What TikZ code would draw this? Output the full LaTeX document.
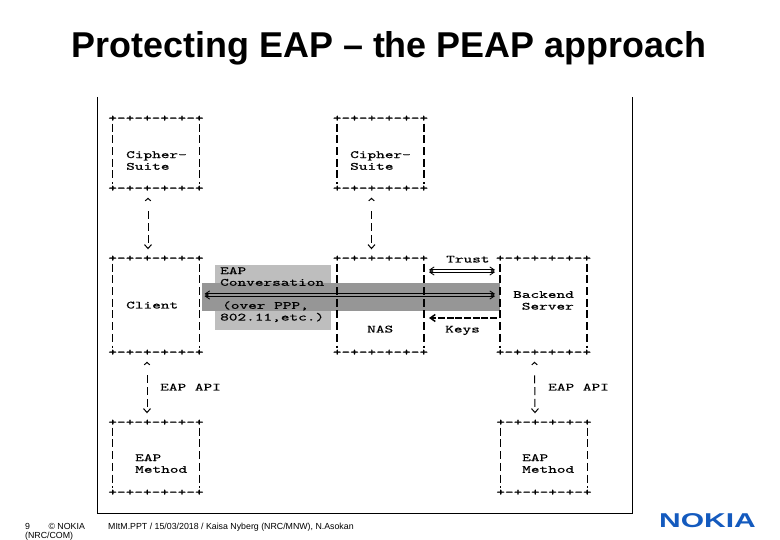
\documentclass[tikz,border=0pt]{standalone}
\usepackage{fontspec}
\setmainfont{Liberation Sans}
\setmonofont[FakeStretch=1.5,FakeBold=0.5]{Latin Modern Mono}
\usetikzlibrary{arrows.meta, positioning}
\definecolor{nokiablue}{RGB}{20,90,190}
\definecolor{lightshade}{RGB}{190,190,190}
\definecolor{darkshade}{RGB}{150,150,150}
% one ascii box: name, centre x, centre y, width, height
\newcommand{\asciibox}[5]{
    \node[boxarea, minimum width=#4, minimum height=#5] (#1) at (#2,#3) {};
    \node[art] (#1top) at (#1.north) {+-+-+-+-+-+};
    \node[art] (#1bot) at (#1.south) {+-+-+-+-+-+};
    \draw[sideline] (#1top.south -| #1.west) -- (#1bot.north -| #1.west);
    \draw[sideline] (#1top.south -| #1.east) -- (#1bot.north -| #1.east);
}
% the two strokes of a <====> link
\newcommand{\dbllink}[2]{
    \draw[dbl, transform canvas={yshift=1.1pt}] #1 -- #2;
    \draw[dbl, transform canvas={yshift=-1.1pt}] #1 -- #2;
}
\begin{document}
\begin{tikzpicture}[
    x=1pt, y=-1pt,
    boxarea/.style={rectangle, inner sep=0pt, outer sep=0pt},
    art/.style={font=\ttfamily\fontsize{11}{11.7}\selectfont, inner sep=0pt, text height=7pt, text depth=2pt},
    lbl/.style={font=\ttfamily\fontsize{11}{11.7}\selectfont, inner sep=0pt, anchor=north west, align=left},
    sideline/.style={line width=1.1pt, dash pattern=on 8pt off 3.7pt},
    vlink/.style={line width=1pt, {Straight Barb[length=2.5pt,width=5.5pt]}-{Straight Barb[length=4pt,width=7pt]}, dash pattern=on 0pt off 12.5pt on 8pt off 3.7pt on 8pt off 3.7pt on 8pt off 30pt},
    dbl/.style={{Straight Barb[length=4.5pt,width=6pt]}-{Straight Barb[length=4.5pt,width=6pt]}, line width=0.8pt},
    keyline/.style={-{Straight Barb[length=5pt,width=7pt]}, line width=1.5pt, dash pattern=on 7pt off 1.7pt}
]
    \useasboundingbox (0,0) rectangle (780,540);
    \node[font=\bfseries\fontsize{35.9}{40}\selectfont, inner sep=0pt] (title) at (389,48.5) {Protecting EAP -- the PEAP approach};

    % outer frame, open at the top
    \coordinate (framea) at (97,97);
    \coordinate (frameb) at (97,513);
    \coordinate (framec) at (632,513);
    \coordinate (framed) at (632,97);
    \draw[line width=1pt] (framea) -- (frameb) -- (framec) -- (framed);

    % grey shading behind the conversation
    \fill[lightshade] (215,265) rectangle (331,330);
    \fill[darkshade] (202,283) rectangle (500,311);

    \asciibox{suitea}{156}{154}{87}{70}
    \asciibox{suiteb}{380.5}{154}{87}{70}
    \asciibox{client}{156}{306}{87}{94}
    \asciibox{nas}{380.5}{306}{87}{94}
    \asciibox{server}{543.5}{306}{87}{94}
    \asciibox{methoda}{156}{458}{87}{70}
    \asciibox{methodb}{544}{458}{87}{70}

    \node[lbl] (suitealbl) at (126,151) {Cipher-\\Suite};
    \node[lbl] (suiteblbl) at (350,151) {Cipher-\\Suite};
    \node[art, anchor=west] (clientlbl) at (126,306) {Client};
    \node[art, anchor=west] (naslbl) at (367,330) {NAS};
    \node[lbl] (serverlbl) at (513,291) {Backend\\~Server};
    \node[lbl] (methodalbl) at (135,454) {EAP\\Method};
    \node[lbl] (methodblbl) at (522,454) {EAP\\Method};
    \node[lbl] (convlbl) at (220,267) {EAP\\Conversation};
    \node[lbl] (overlbl) at (220,301) {\hspace{2pt}(over PPP,\\802.11,etc.)};
    \node[art, anchor=west] (trustlbl) at (446,260) {Trust};
    \node[art, anchor=west] (keyslbl) at (445,330) {Keys};
    \node[art, anchor=west] (apialbl) at (160,388) {EAP API};
    \node[art, anchor=west] (apiblbl) at (548,388) {EAP API};

    \draw[vlink] ([xshift=-8pt,yshift=-4pt]suiteabot.south) -- ([xshift=-8pt,yshift=5pt]clienttop.north);
    \draw[vlink] ([xshift=-9pt,yshift=-4pt]suitebbot.south) -- ([xshift=-9pt,yshift=5pt]nastop.north);
    \draw[vlink] ([xshift=-9pt,yshift=-4pt]clientbot.south) -- ([xshift=-9pt,yshift=5pt]methodatop.north);
    \draw[vlink] ([xshift=-9pt,yshift=-4pt]serverbot.south) -- ([xshift=-9pt,yshift=5pt]methodbtop.north);

    \dbllink{([xshift=5pt,yshift=11pt]client.east)}{([xshift=-5pt,yshift=11pt]server.west)}
    \dbllink{([xshift=5pt,yshift=35pt]nas.east)}{([xshift=-5pt,yshift=35pt]server.west)}
    \draw[keyline] ([xshift=-3pt,yshift=-12pt]server.west) -- ([xshift=5pt,yshift=-12pt]nas.east);

    \node[anchor=west, font=\fontsize{8.8}{9.5}\selectfont, inner sep=0pt, align=left] (pagenum) at (25,532) {9\hspace{2.1em}© NOKIA\\(NRC/COM)};
    \node[anchor=west, font=\fontsize{8.8}{9.5}\selectfont, inner sep=0pt] (footer) at (108,527.5) {MItM.PPT / 15/03/2018 / Kaisa Nyberg (NRC/MNW), N.Asokan};
    \node[font=\bfseries\fontsize{20}{20}\selectfont, text=nokiablue, inner sep=0pt, xscale=1.5, transform shape] (logo) at (707.5,520.5) {NOKIA};
\end{tikzpicture}
\end{document}
